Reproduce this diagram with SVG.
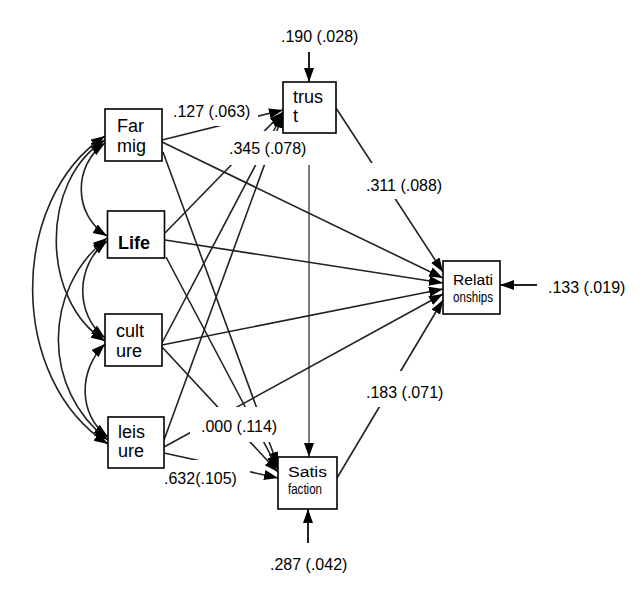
<svg xmlns="http://www.w3.org/2000/svg" width="643" height="589" viewBox="0 0 643 589">
<defs>
<marker id="ah" markerUnits="userSpaceOnUse" markerWidth="15" markerHeight="11" refX="14" refY="5" orient="auto-start-reverse">
<path d="M0,0 L14,5 L0,10 z" fill="#000"/>
</marker>
</defs>
<style>
.box{fill:#fff;stroke:#000;stroke-width:1.6}
.ln{fill:none;stroke:#222;stroke-width:1.6;marker-end:url(#ah)}
.cv{fill:none;stroke:#222;stroke-width:1.6;marker-start:url(#ah);marker-end:url(#ah)}
.nt{font-family:"Liberation Sans",Arial,sans-serif;font-size:18px;fill:#000}
.sm{font-size:14px}
.lb{font-family:"Liberation Sans",Arial,sans-serif;font-size:16px;fill:#000}
.bg{fill:#fff;stroke:none}
</style>
<rect width="643" height="589" fill="#fff"/>
<g id="connectors">
<path class="cv" d="M105,143 C73,165 73,215 107,236"/>
<path class="cv" d="M107,241 C75,265 75,315 105,338"/>
<path class="cv" d="M105,344 C78,370 78,415 108,437"/>
<path class="cv" d="M105,140 C40,180 40,300 105,341"/>
<path class="cv" d="M107,238 C42,290 42,390 108,440"/>
<path class="cv" d="M105,136 C8,200 8,380 108,444"/>
<line class="ln" x1="162" y1="140" x2="283" y2="110"/>
<line class="ln" x1="165" y1="233" x2="283" y2="112"/>
<line class="ln" x1="162" y1="343" x2="283" y2="113"/>
<line class="ln" x1="164" y1="440" x2="283" y2="114"/>
<line class="ln" x1="162" y1="142" x2="443" y2="278"/>
<line class="ln" x1="165" y1="240" x2="443" y2="283"/>
<line class="ln" x1="162" y1="345" x2="443" y2="289"/>
<line class="ln" x1="164" y1="447" x2="443" y2="294"/>
<line class="ln" x1="163" y1="152" x2="278" y2="466"/>
<line class="ln" x1="166" y1="257" x2="278" y2="469"/>
<line class="ln" x1="162" y1="347" x2="278" y2="472"/>
<line class="ln" x1="164" y1="453" x2="278" y2="478"/>
<line class="ln" x1="336" y1="108" x2="443" y2="272"/>
<line class="ln" x1="337" y1="478" x2="443" y2="300"/>
<line class="ln" x1="309" y1="133" x2="309" y2="457" style="stroke-width:1.2"/>
<line class="ln" x1="309" y1="52" x2="309" y2="82" style="stroke-width:2"/>
<line class="ln" x1="308" y1="543" x2="308" y2="509" style="stroke-width:2"/>
<line class="ln" x1="537" y1="285" x2="500" y2="285" style="stroke-width:2"/>
</g>
<g id="labels">
<rect class="bg" x="170" y="100" width="88" height="26"/>
<rect class="bg" x="225" y="131" width="85" height="34"/>
<rect class="bg" x="360" y="163" width="90" height="36"/>
<rect class="bg" x="360" y="371" width="90" height="36"/>
<rect class="bg" x="190" y="407" width="95" height="35"/>
<rect class="bg" x="165" y="460" width="85" height="30"/>
<text class="lb" x="173" y="117">.127 (.063)</text>
<text class="lb" x="229" y="154">.345 (.078)</text>
<text class="lb" x="366" y="191">.311 (.088)</text>
<text class="lb" x="366" y="398">.183 (.071)</text>
<text class="lb" x="201" y="432">.000 (.114)</text>
<text class="lb" x="164" y="484">.632(.105)</text>
<text class="lb" x="281" y="42">.190 (.028)</text>
<text class="lb" x="270" y="570">.287 (.042)</text>
<text class="lb" x="548" y="293">.133 (.019)</text>
</g>
<g id="farmig">
<rect class="box" x="105" y="109" width="57" height="52"/>
<text class="nt" x="117" y="132">Far</text>
<text class="nt" x="117" y="152">mig</text>
</g>
<g id="life">
<rect class="box" x="107.5" y="211" width="57" height="47"/>
<text class="nt" x="118" y="249" font-size="15" font-weight="bold">Life</text>
</g>
<g id="culture">
<rect class="box" x="105" y="314" width="57" height="52"/>
<text class="nt" x="116" y="337">cult</text>
<text class="nt" x="116" y="357">ure</text>
</g>
<g id="leisure">
<rect class="box" x="108" y="417" width="56" height="51"/>
<text class="nt" x="118" y="438">leis</text>
<text class="nt" x="118" y="457">ure</text>
</g>
<g id="trust">
<rect class="box" x="283" y="82" width="53" height="51"/>
<text class="nt" x="293" y="103">trus</text>
<text class="nt" x="293" y="122">t</text>
</g>
<g id="relationships">
<rect class="box" x="443" y="261" width="57" height="53"/>
<text class="nt sm" x="453" y="285" textLength="40" lengthAdjust="spacingAndGlyphs">Relati</text>
<text class="nt sm" x="453" y="302" textLength="40" lengthAdjust="spacingAndGlyphs">onships</text>
</g>
<g id="satisfaction">
<rect class="box" x="278" y="457" width="59" height="52"/>
<text class="nt sm" x="288" y="477" textLength="39" lengthAdjust="spacingAndGlyphs">Satis</text>
<text class="nt sm" x="288" y="494" textLength="34" lengthAdjust="spacingAndGlyphs">faction</text>
</g>
</svg>
